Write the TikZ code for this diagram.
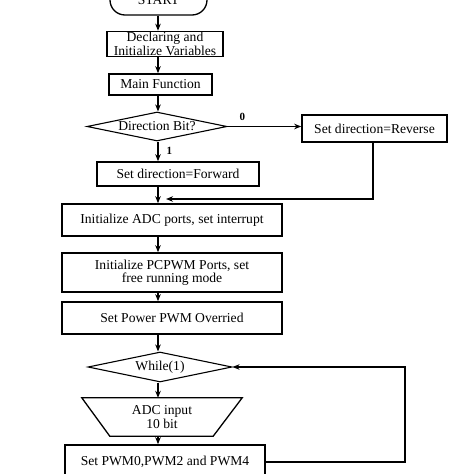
\documentclass[tikz,border=0pt]{standalone}
\usepackage{fontspec}
\setmainfont{Liberation Serif}
\usetikzlibrary{arrows.meta,shapes.geometric}
\tikzset{
  base/.style={font=\fontsize{13.6}{11.5}\selectfont, align=center, inner sep=1pt},
  procbox/.style={base, draw, line width=1.6pt, rectangle},
  decbox/.style={base, draw, line width=1.1pt, diamond, aspect=4.8, inner sep=0pt},
  conn/.style={line width=1.2pt},
  arr/.style={conn, -{Stealth[length=7pt,width=5.5pt]}},
  lbl/.style={font=\fontsize{11}{11}\selectfont\bfseries, inner sep=0pt}
}
\begin{document}
\begin{tikzpicture}[x=1pt,y=-1pt]
\useasboundingbox (0,0) rectangle (474,474);
\clip (0,0) rectangle (474,474);
\fill[white] (0,0) rectangle (474,474);
\coordinate (spine) at (158,0);
% nodes
\node[base, draw, line width=1.3pt, rounded corners=15pt, minimum width=97pt, minimum height=30pt] (start) at (158.5,0) {START};
\node[procbox, minimum width=116pt, minimum height=24pt] (decl) at (165,44) {Declaring and\\Initialize Variables};
\node[procbox, minimum width=103pt, minimum height=21pt] (main) at (160.5,84.5) {Main Function};
\node[decbox, minimum width=140pt, minimum height=29pt] (dir) at (157,126.5) {Direction Bit?};
\node[procbox, minimum width=145pt, minimum height=27pt] (rev) at (374.5,128.5) {Set direction=Reverse};
\node[procbox, minimum width=162pt, minimum height=24pt] (fwd) at (178,174) {Set direction=Forward};
\node[procbox, minimum width=220pt, minimum height=32pt] (adc) at (172,220) {Initialize ADC ports, set interrupt};
\node[procbox, minimum width=220pt, minimum height=39pt] (pcpwm) at (172,272.5) {Initialize PCPWM Ports, set\\free running mode};
\node[procbox, minimum width=220pt, minimum height=32pt] (power) at (172,318) {Set Power PWM Overried};
\node[decbox, minimum width=144pt, minimum height=30pt] (while) at (160,367) {While(1)};
\node[base, minimum width=160pt, minimum height=38pt] (adcin) at (162,417) {ADC input\\10 bit};
\draw[line width=1.3pt] (adcin.north west) -- (adcin.north east) -- ([xshift=-29pt]adcin.south east) -- ([xshift=28pt]adcin.south west) -- cycle;
\node[procbox, minimum width=200pt, minimum height=34pt] (pwm) at (165,462) {Set PWM0,PWM2 and PWM4};
\coordinate (joinpt) at (166,199);
\coordinate (loopx) at (405,0);
% connectors
\draw[arr] (start.south -| spine) -- (decl.north -| spine);
\draw[arr] (decl.south -| spine) -- (main.north -| spine);
\draw[arr] (main.south -| spine) -- (dir.north -| spine);
\draw[arr] (dir.east) -- node[lbl, pos=0.2, above=5pt] {0} (dir.east -| rev.west);
\draw[arr] (dir.south -| spine) -- node[lbl, pos=0.45, right=8pt] {1} (fwd.north -| spine);
\draw[arr] ([xshift=-1.5pt]rev.south) |- (joinpt);
\draw[arr] (fwd.south -| spine) -- (adc.north -| spine);
\draw[arr] (adc.south -| spine) -- (pcpwm.north -| spine);
\draw[arr] (pcpwm.south -| spine) -- (power.north -| spine);
\draw[arr] (power.south -| spine) -- (while.north -| spine);
\draw[arr] (while.south -| spine) -- (adcin.north -| spine);
\draw[arr] (adcin.south -| spine) -- (pwm.north -| spine);
\draw[arr] (pwm.east) -- (pwm.east -| loopx) |- (while.east);
\end{tikzpicture}
\end{document}
